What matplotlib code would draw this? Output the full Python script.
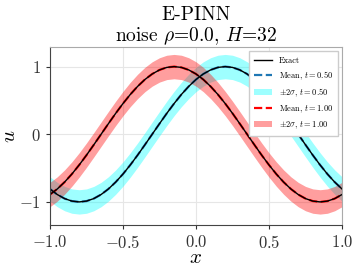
import matplotlib
matplotlib.use("Agg")
import matplotlib.pyplot as plt
import numpy as np

plt.rcParams["font.family"] = "cmr10"
plt.rcParams["mathtext.fontset"] = "cm"
plt.rcParams["axes.formatter.use_mathtext"] = True

# x grid and solution values
x = np.round(np.arange(-1.0, 1.0001, 0.05), 2)

exact_t05 = [-0.809, -0.891, -0.951, -0.988, -1.000, -0.988, -0.951, -0.891, -0.809,
             -0.707, -0.588, -0.454, -0.309, -0.156, 0.000, 0.156, 0.309, 0.454,
             0.588, 0.707, 0.809, 0.891, 0.951, 0.988, 1.000, 0.988, 0.951, 0.891,
             0.809, 0.707, 0.588, 0.454, 0.309, 0.156, 0.000, -0.156, -0.309,
             -0.454, -0.588, -0.707, -0.809]
exact_t10 = [-0.891, -0.809, -0.707, -0.588, -0.454, -0.309, -0.156, 0.000, 0.156,
             0.309, 0.454, 0.588, 0.707, 0.809, 0.891, 0.951, 0.988, 1.000, 0.988,
             0.951, 0.891, 0.809, 0.707, 0.588, 0.454, 0.309, 0.156, 0.000, -0.156,
             -0.309, -0.454, -0.588, -0.707, -0.809, -0.891, -0.951, -0.988,
             -1.000, -0.988, -0.951, -0.891]

# predicted means sit right on the exact curves
mean_t05 = exact_t05
mean_t10 = exact_t10
two_sigma_t05 = 0.18
two_sigma_t10 = 0.18

m05 = np.array(mean_t05)
m10 = np.array(mean_t10)

fig = plt.figure(figsize=(3.57, 2.70), dpi=100)
ax = fig.add_axes([0.140, 0.167, 0.818, 0.659])

ax.fill_between(x, m05 - two_sigma_t05, m05 + two_sigma_t05, color="cyan",
                alpha=0.38, lw=0, label=r"$\pm 2\sigma$, $t=0.50$")
ax.fill_between(x, m10 - two_sigma_t10, m10 + two_sigma_t10, color="red",
                alpha=0.38, lw=0, label=r"$\pm 2\sigma$, $t=1.00$")
ax.plot(x, m05, "--", color="tab:blue", lw=1.6, label=r"Mean, $t=0.50$")
ax.plot(x, m10, "--", color="red", lw=1.6, label=r"Mean, $t=1.00$")
ax.plot(x, exact_t05, color="black", lw=1.0, label="Exact")
ax.plot(x, exact_t10, color="black", lw=1.0)

ax.set_xlim(-1.0, 1.0)
ax.set_ylim(-1.34, 1.29)
ax.set_xticks([-1.0, -0.5, 0.0, 0.5, 1.0])
ax.set_yticks([-1, 0, 1])
ax.tick_params(labelsize=12, colors="#333333", length=3)
ax.grid(True, color="#e6e6e6", lw=0.8)
ax.set_axisbelow(True)
for side in ["left", "bottom"]:
    ax.spines[side].set_color("#444444")
for side in ["top", "right"]:
    ax.spines[side].set_color("#aaaaaa")

ax.set_xlabel(r"$x$", fontsize=15, labelpad=-1)
ax.set_ylabel(r"$u$", fontsize=15)
ax.yaxis.set_label_coords(-0.105, 0.5)
ax.set_title("E-PINN\nnoise $\\rho$=0.0, $H$=32", fontsize=14, linespacing=1.05, pad=4)

h, l = ax.get_legend_handles_labels()
order = [4, 2, 0, 3, 1]
ax.legend([h[i] for i in order], [l[i] for i in order], loc="upper right",
          fontsize=6, framealpha=1, edgecolor="#cccccc", fancybox=False,
          handlelength=2.2, borderpad=0.6, labelspacing=0.55)

fig.savefig("out.png", dpi=100)
